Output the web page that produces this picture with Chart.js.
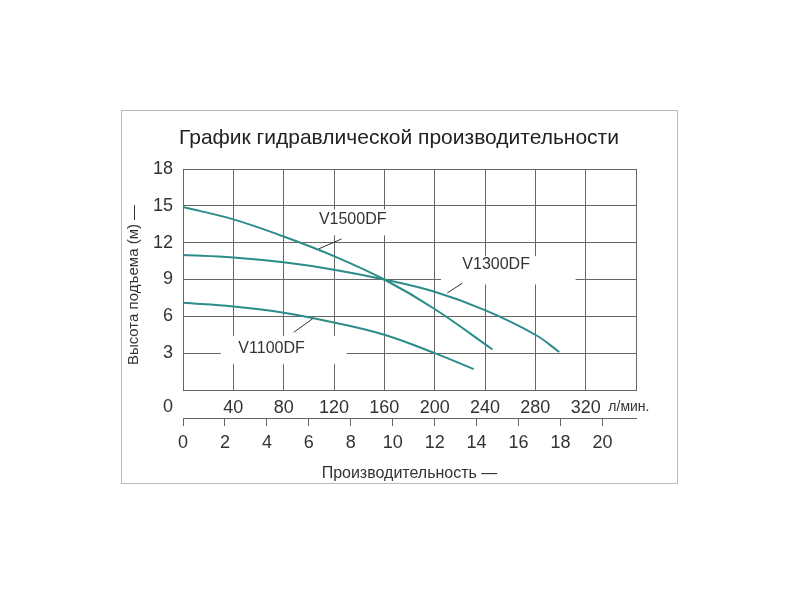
<!DOCTYPE html>
<html>
<head>
<meta charset="utf-8">
<script src="https://cdn.jsdelivr.net/npm/chart.js@4"></script>
<style>
  body { margin: 0; background: #fff; }
  #wrap { width: 800px; height: 600px; position: relative; }
</style>
</head>
<body>
<div id="wrap"><canvas id="pumpChart" width="800" height="600"></canvas></div>
<script>
// flow in l/min, head in m
const flowV1500 = [0, 40, 80, 120, 160, 200, 246];
const headV1500 = [14.9, 13.9, 12.5, 10.9, 9.0, 6.6, 3.3];
const flowV1300 = [0, 40, 80, 120, 160, 200, 240, 280, 299];
const headV1300 = [11.0, 10.8, 10.4, 9.8, 9.0, 8.0, 6.5, 4.5, 3.1];
const flowV1100 = [0, 40, 80, 120, 160, 200, 231];
const headV1100 = [7.1, 6.8, 6.3, 5.5, 4.5, 3.0, 1.7];
const headTicks = [3, 6, 9, 12, 15, 18];
const flowTicks = [40, 80, 120, 160, 200, 240, 280, 320];
const m3hTicks = [0, 2, 4, 6, 8, 10, 12, 14, 16, 18, 20];

const curveColor = '#2b8c88';
const textColor = '#333';
const font = 'Liberation Sans, Arial, sans-serif';

// label text, box to blank the grid, leader line [flow, head] to [flow, head]
const curveLabels = [
    { text: 'V1500DF', at: [108, 13.9], box: [98, 188, 14.7, 12.6], leader: [[108, 11.5], [126, 12.3]] },
    { text: 'V1300DF', at: [222, 10.2], box: [205, 312, 10.9, 8.6], leader: [[210, 7.9], [222, 8.7]] },
    { text: 'V1100DF', at: [44, 3.4], box: [30, 130, 4.4, 2.1], leader: [[88, 4.7], [103, 5.8]] }
];

function toPoints(xs, ys) {
    return xs.map((x, i) => ({ x: x, y: ys[i] }));
}

function makeSet(xs, ys) {
    return {
        data: toPoints(xs, ys),
        borderColor: curveColor,
        borderWidth: 2,
        pointRadius: 0,
        tension: 0.4,
        fill: false
    };
}

const decorPlugin = {
    id: 'decor',
    beforeDatasetsDraw(chart) {
        const ctx = chart.ctx;
        const x = chart.scales.x, y = chart.scales.y;
        ctx.save();
        ctx.fillStyle = '#fff';
        curveLabels.forEach(l => {
            const x0 = x.getPixelForValue(l.box[0]), x1 = x.getPixelForValue(l.box[1]);
            const y0 = y.getPixelForValue(l.box[2]), y1 = y.getPixelForValue(l.box[3]);
            ctx.fillRect(x0, y0, x1 - x0, y1 - y0);
        });
        ctx.restore();
    },
    afterDraw(chart) {
        const ctx = chart.ctx;
        const x = chart.scales.x, y = chart.scales.y;
        const area = chart.chartArea;
        ctx.save();
        // outer frame
        ctx.strokeStyle = '#bbb';
        ctx.lineWidth = 1;
        ctx.strokeRect(121.5, 110.5, 556, 373);
        // title
        ctx.fillStyle = '#222';
        ctx.font = '21px ' + font;
        ctx.textAlign = 'center';
        ctx.textBaseline = 'middle';
        ctx.fillText('График гидравлической производительности', 399, 138);
        // curve labels + leaders
        ctx.font = '16px ' + font;
        ctx.fillStyle = textColor;
        ctx.textAlign = 'left';
        curveLabels.forEach(l => {
            ctx.fillText(l.text, x.getPixelForValue(l.at[0]), y.getPixelForValue(l.at[1]));
            ctx.strokeStyle = '#333';
            ctx.beginPath();
            ctx.moveTo(x.getPixelForValue(l.leader[0][0]), y.getPixelForValue(l.leader[0][1]));
            ctx.lineTo(x.getPixelForValue(l.leader[1][0]), y.getPixelForValue(l.leader[1][1]));
            ctx.stroke();
        });
        // zero and unit on the l/min row
        ctx.font = '18px ' + font;
        ctx.textAlign = 'center';
        ctx.fillText('0', 168, area.bottom + 17);
        ctx.font = '14px ' + font;
        ctx.textAlign = 'left';
        ctx.fillText('л/мин.', x.getPixelForValue(338), area.bottom + 17);
        // y title
        ctx.translate(134, 285);
        ctx.rotate(-Math.PI / 2);
        ctx.textAlign = 'center';
        ctx.font = '15px ' + font;
        ctx.fillText('Высота подъема (м) —', 0, 0);
        ctx.restore();
    }
};

const chart = new Chart(document.getElementById('pumpChart'), {
    type: 'line',
    data: {
        datasets: [
            makeSet(flowV1500, headV1500),
            makeSet(flowV1300, headV1300),
            makeSet(flowV1100, headV1100)
        ]
    },
    options: {
        responsive: false,
        animation: false,
        layout: { padding: { left: 121, top: 169, right: 164, bottom: 117 } },
        plugins: { legend: { display: false }, tooltip: { enabled: false } },
        scales: {
            x: {
                type: 'linear',
                min: 0,
                max: 360,
                afterFit: s => { s.height = 28; },
                afterBuildTicks: s => { s.ticks = [0].concat(flowTicks, [360]).map(v => ({ value: v })); },
                grid: { color: '#666', drawTicks: false },
                border: { color: '#666' },
                ticks: {
                    padding: 7,
                    color: textColor,
                    font: { family: font, size: 18 },
                    callback: v => flowTicks.includes(v) ? v : ''
                }
            },
            x2: {
                type: 'linear',
                position: 'bottom',
                min: 0,
                max: 360 / 16.667,
                afterFit: s => { s.height = 65; },
                afterBuildTicks: s => { s.ticks = m3hTicks.map(v => ({ value: v })); },
                grid: { drawOnChartArea: false, tickLength: 8, color: '#666' },
                border: { color: '#666' },
                ticks: { padding: 6, color: textColor, font: { family: font, size: 18 } },
                title: {
                    display: true,
                    text: 'Производительность —',
                    color: textColor,
                    padding: { top: 0, bottom: 0 },
                    font: { family: font, size: 16 }
                }
            },
            y: {
                min: 0,
                max: 18,
                afterFit: s => { s.width = 62; },
                afterBuildTicks: s => { s.ticks = [0].concat(headTicks).map(v => ({ value: v })); },
                grid: { color: '#666', drawTicks: false },
                border: { color: '#666' },
                ticks: {
                    padding: 10,
                    color: textColor,
                    font: { family: font, size: 18 },
                    callback: v => headTicks.includes(v) ? v : ''
                }
            }
        }
    },
    plugins: [decorPlugin]
});
</script>
</body>
</html>
